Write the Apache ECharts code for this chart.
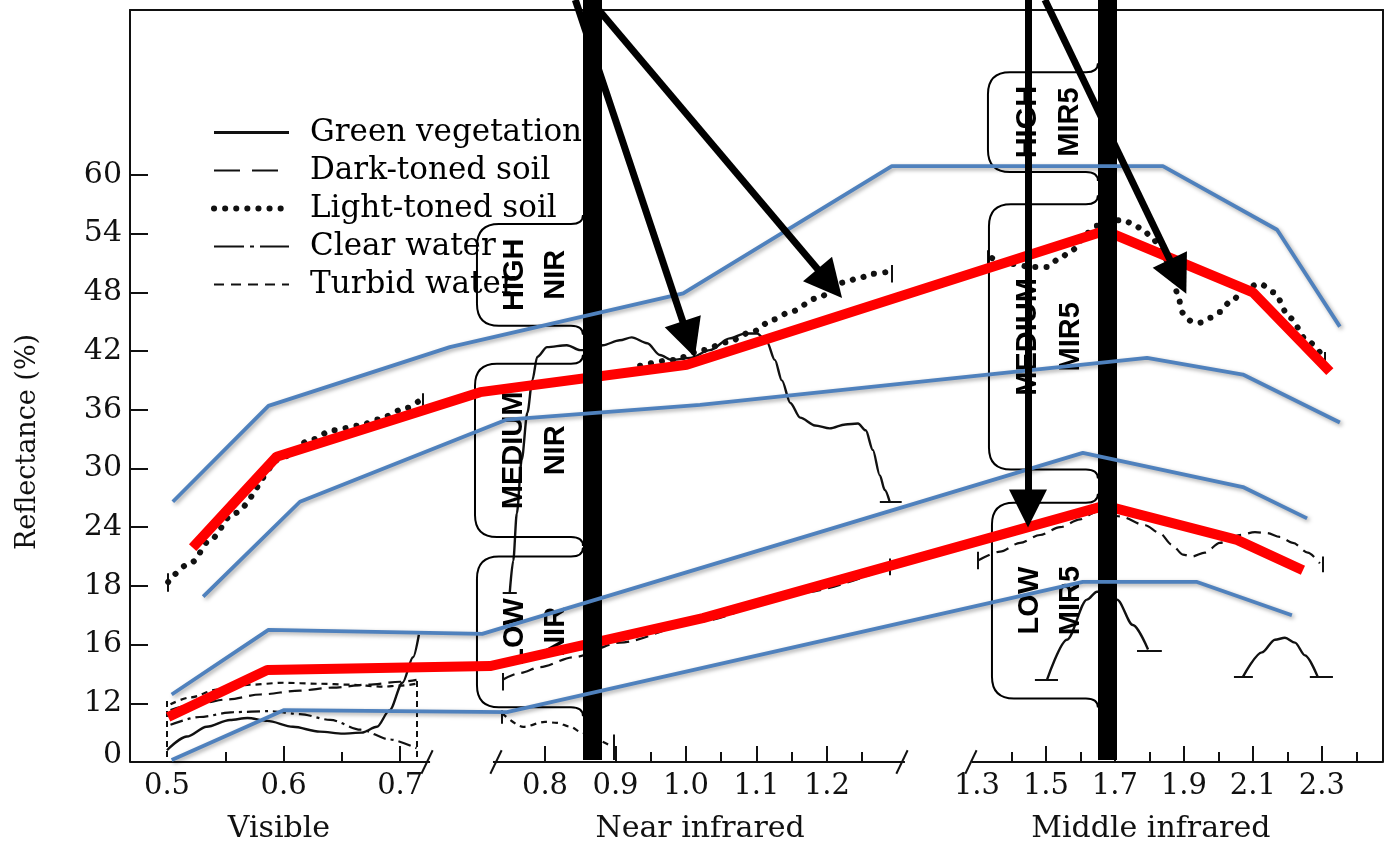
<!DOCTYPE html>
<html>
<head>
<meta charset="utf-8">
<script src="https://cdn.jsdelivr.net/npm/echarts@6/dist/echarts.min.js"></script>
<style>html,body{margin:0;padding:0;background:#fff}#c{width:1388px;height:848px}</style>
</head>
<body>
<div id="c"></div>
<script>
// ---------- axis tick labels ----------
const yTickLabels = ['0', '12', '16', '18', '24', '30', '36', '42', '48', '54', '60'];
const xTickLabels = [['VIS',0.5,'0.5'],['VIS',0.6,'0.6'],['VIS',0.7,'0.7'],
  ['NIR',0.8,'0.8'],['NIR',0.9,'0.9'],['NIR',1.0,'1.0'],['NIR',1.1,'1.1'],['NIR',1.2,'1.2'],
  ['MIR',1.3,'1.3'],['MIR',1.5,'1.5'],['MIR',1.7,'1.7'],['MIR',1.9,'1.9'],['MIR',2.1,'2.1'],['MIR',2.3,'2.3']];
const xMajorTicks = [['VIS',0.6],['VIS',0.7],['NIR',0.8],['NIR',0.9],['NIR',1.0],['NIR',1.1],['NIR',1.2],
  ['MIR',1.5],['MIR',1.7],['MIR',1.9],['MIR',2.1],['MIR',2.3]];
const xMinorTicks = [['VIS',0.55],['VIS',0.65],['NIR',0.95],['NIR',1.05],['NIR',1.15],['NIR',1.25],
  ['MIR',1.4],['MIR',1.6],['MIR',1.8],['MIR',2.0],['MIR',2.2],['MIR',2.4]];
const sectionLabels = [['VIS',0.596,'Visible'],['NIR',1.02,'Near infrared'],['MIR',1.804,'Middle infrared']];
const axisSegments = [['VIS',0.4683,0.7256],['NIR',0.7262,1.3106],['MIR',1.2855,2.4768]];
const axisBreaks = [['VIS',0.723],['NIR',0.7305],['NIR',1.3064],['MIR',1.2826]];

// ---------- spectral curves: [wavelength um, reflectance] ----------
const greenVegVIS = [[0.500,1.2],[0.517,2.6],[0.534,3.6],[0.554,4.3],[0.569,4.5],[0.586,4.2],[0.608,3.6],[0.631,3.1],[0.651,2.9],[0.667,3.0],[0.680,3.6],[0.691,5.3],[0.702,8.1],[0.711,10.7],[0.716,13.0]];
const greenVegNIR = [[0.750,17.3],[0.755,20.6],[0.760,25.4],[0.767,30.9],[0.775,35.7],[0.782,39.0],[0.789,41.4],[0.803,42.4],[0.831,42.6],[0.850,42.1],[0.864,42.1],[0.882,42.6],[0.906,43.1],[0.923,43.4],[0.945,42.8],[0.963,41.6],[0.980,41.1],[1.006,41.3],[1.034,42.1],[1.062,43.3],[1.084,43.8],[1.101,43.8],[1.115,42.9],[1.126,41.1],[1.136,39.0],[1.148,36.7],[1.162,35.2],[1.183,34.4],[1.204,34.1],[1.226,34.5],[1.244,34.6],[1.255,33.9],[1.265,31.9],[1.275,29.3],[1.282,27.8],[1.289,26.6]];
const greenVegMIR1 = [[1.503,8.4],[1.561,12.5],[1.619,16.6],[1.648,17.4],[1.677,17.4],[1.706,16.6],[1.752,14.0],[1.796,11.5]];
const greenVegMIR2 = [[2.071,8.7],[2.126,11.2],[2.164,12.5],[2.193,12.7],[2.222,12.2],[2.251,10.9],[2.288,8.7]];
const darkSoilVIS = [[0.503,5.3],[0.528,6.0],[0.552,6.4],[0.580,6.9],[0.614,7.3],[0.642,7.6],[0.672,7.9],[0.700,8.2],[0.714,8.4]];
const darkSoilNIR = [[0.740,8.4],[0.765,9.1],[0.793,9.7],[0.840,10.7],[0.906,12.2],[1.020,14.4],[1.162,17.3],[1.289,19.9]];
const darkSoilMIR = [[1.303,20.6],[1.367,21.5],[1.425,22.4],[1.483,23.2],[1.541,24.0],[1.599,24.8],[1.648,25.6],[1.715,25.1],[1.787,24.2],[1.830,23.4],[1.865,22.2],[1.897,21.2],[1.923,21.0],[1.961,21.4],[2.004,22.4],[2.062,23.2],[2.106,23.5],[2.141,23.4],[2.178,23.0],[2.216,22.4],[2.259,21.4],[2.294,20.3]];
const lightSoilVIS = [[0.501,18.4],[0.521,20.4],[0.537,22.7],[0.557,25.4],[0.600,31.2],[0.623,32.9],[0.642,33.9],[0.666,34.4],[0.680,35.0],[0.706,36.2],[0.717,37.0]];
const lightSoilNIR = [[0.935,40.5],[0.982,41.1],[1.024,42.1],[1.058,42.9],[1.095,44.0],[1.123,45.2],[1.148,46.0],[1.186,47.4],[1.223,49.0],[1.247,49.5],[1.265,49.9],[1.287,50.1]];
const lightSoilMIR = [[1.344,51.5],[1.400,50.9],[1.457,50.6],[1.503,50.6],[1.541,51.5],[1.575,52.3],[1.622,54.1],[1.648,54.8],[1.686,55.3],[1.723,55.4],[1.752,55.0],[1.781,54.4],[1.807,53.6],[1.839,52.0],[1.868,49.6],[1.880,48.0],[1.897,45.9],[1.923,45.0],[1.946,44.9],[1.975,45.4],[2.004,46.0],[2.033,47.0],[2.083,48.5],[2.120,48.9],[2.161,48.0],[2.207,45.4],[2.259,43.0],[2.300,41.6]];
const clearWaterVIS = [[0.503,3.8],[0.528,4.6],[0.557,5.1],[0.588,5.2],[0.614,4.9],[0.640,4.3],[0.666,3.3],[0.691,2.3],[0.714,1.4]];
const turbidWaterVIS = [[0.503,5.9],[0.520,6.6],[0.543,7.4],[0.571,7.9],[0.600,8.1],[0.629,8.0],[0.657,7.9],[0.685,7.7],[0.700,7.8],[0.714,8.0]];
const turbidWaterNIR = [[0.739,5.0],[0.769,3.6],[0.800,4.1],[0.817,4.0],[0.836,3.6],[0.850,3.1],[0.871,2.3],[0.892,1.7]];
// end caps of the curves: [segment, wl1, r1, wl2, r2]
const endCaps = [['VIS',0.501,17.4,0.501,19.3],['VIS',0.719,36.0,0.719,37.7],
  ['NIR',0.740,17.3,0.760,17.3],['NIR',1.275,26.6,1.306,26.6],['NIR',0.740,7.3,0.740,9.1],['NIR',1.289,19.1,1.289,20.8],
  ['NIR',1.292,49.0,1.292,50.8],['NIR',0.739,3.9,0.739,5.3],['NIR',0.897,0.2,0.897,2.8],
  ['MIR',1.332,50.6,1.332,52.3],['MIR',2.309,40.7,2.309,41.9],['MIR',1.303,19.7,1.303,21.5],['MIR',2.303,19.4,2.303,21.0],
  ['MIR',1.468,8.4,1.535,8.4],['MIR',1.764,11.4,1.836,11.4],['MIR',2.045,8.7,2.100,8.7],['MIR',2.265,8.7,2.332,8.7]];
const visMarkers = [['VIS',0.500,0.5,0.500,6.6],['VIS',0.714,0.5,0.714,8.4]];

// ---------- overlay annotations: [segment, wl, reflectance] ----------
const redUpper = [['VIS',0.522,21.9],['VIS',0.594,31.2],['NIR',0.708,37.8],['NIR',1.001,40.6],['MIR',1.671,54.3],['MIR',2.100,48.0],['MIR',2.323,39.9]];
const redLower = [['VIS',0.501,4.6],['VIS',0.586,9.4],['NIR',0.722,9.8],['NIR',1.024,14.7],['MIR',1.671,26.2],['MIR',2.054,22.7],['MIR',2.245,19.6]];
const blueHighTop = [['VIS',0.505,26.6],['VIS',0.587,36.4],['NIR',0.665,42.4],['NIR',0.996,47.9],['NIR',1.292,60.9],['MIR',1.839,60.9],['MIR',2.170,54.4],['MIR',2.352,44.5]];
const blueHighBottom = [['VIS',0.531,16.9],['VIS',0.614,26.6],['NIR',0.746,35.0],['NIR',1.020,36.5],['MIR',1.793,41.3],['MIR',2.071,39.6],['MIR',2.352,34.7]];
const blueLowTop = [['VIS',0.504,6.9],['VIS',0.587,13.5],['NIR',0.711,13.1],['MIR',1.607,31.6],['MIR',2.071,28.1],['MIR',2.257,24.9]];
const blueLowBottom = [['VIS',0.504,0.2],['VIS',0.600,5.3],['NIR',0.746,5.1],['MIR',1.607,18.4],['MIR',1.938,18.4],['MIR',2.213,15.0]];
const dividers = [['NIR',0.8674],['MIR',1.6768]];
// arrows: tail point, arrowhead centre
const arrows = [['NIR',0.843,77.9,'NIR',1.004,43.2],['NIR',0.864,77.9,'NIR',1.204,48.9],
  ['MIR',1.448,77.9,'MIR',1.448,25.9],['MIR',1.497,77.9,'MIR',1.883,49.6]];
const brackets = [
  ['NIR',0.7035,0.8539,55.0,44.6,'HIGH','NIR'],
  ['NIR',0.7007,0.8539,40.7,23.0,'MEDIUM','NIR'],
  ['NIR',0.7035,0.8539,21.0,5.6,'LOW','NIR'],
  ['MIR',1.3319,1.6507,70.5,60.3,'HIGH','MIR5'],
  ['MIR',1.3348,1.6507,57.0,29.9,'MEDIUM','MIR5'],
  ['MIR',1.3435,1.6507,26.5,6.5,'LOW','MIR5']];

// ---------- broken wavelength axis ----------
const SEG = { VIS: {wl0:0.5, u0:2.953, k:93.06}, NIR: {wl0:0.8, u0:33.12, k:56.26}, MIR: {wl0:1.5, u0:73.10, k:27.53} };
function toU(seg, wl){ const s = SEG[seg]; return s.u0 + (wl - s.wl0) * s.k; }
const YMAX = 76.86;
const SERIF = "'DejaVu Serif', serif";
const SANS = "'Liberation Sans', Arial, sans-serif";
const INK = '#111';

function nearestLabel(list, v){
  let bi = 0, bd = 1e9;
  list.forEach((t, i) => { const d = Math.abs(toU(t[0], t[1]) - v); if (d < bd) { bd = d; bi = i; } });
  return list[bi][2];
}
function curve(name, seg, pts, ls){
  return { type:'line', name, data: pts.map(p => [toU(seg, p[0]), p[1]]), symbol:'none', showSymbol:false,
    smooth:0.3, smoothMonotone:'x', lineStyle: Object.assign({color:INK}, ls), itemStyle:{color:INK}, z:2, silent:true };
}
function overlay(name, pts, ls, z){
  return { type:'line', name, data: pts.map(p => [toU(p[0], p[1]), p[2]]), symbol:'none', showSymbol:false,
    lineStyle: ls, z, silent:true, clip:false };
}
function segs(list){ return list.map(c => ({coords:[[toU(c[0],c[1]), c[2]], [toU(c[0],c[3]), c[4]]]})); }

const S_GREEN = {width:2.4, type:'solid'};
const S_DARK = {width:2.2, type:[13,7]};
const S_LIGHT = {width:6, type:[0.1,11], cap:'round'};
const S_CLEAR = {width:2.2, type:[13,5,3,5]};
const S_TURBID = {width:2.2, type:[6,5]};
const RED = {color:'#ff0000', width:10};
const BLUE = {color:'#4f81bd', width:3.8, shadowColor:'rgba(0,0,0,0.35)', shadowBlur:4, shadowOffsetX:2, shadowOffsetY:2};

const series = [
  curve('Green vegetation','VIS',greenVegVIS,S_GREEN), curve('Green vegetation','NIR',greenVegNIR,S_GREEN),
  curve('Green vegetation','MIR',greenVegMIR1,S_GREEN), curve('Green vegetation','MIR',greenVegMIR2,S_GREEN),
  curve('Dark-toned soil','VIS',darkSoilVIS,S_DARK), curve('Dark-toned soil','NIR',darkSoilNIR,S_DARK), curve('Dark-toned soil','MIR',darkSoilMIR,S_DARK),
  curve('Light-toned soil','VIS',lightSoilVIS,S_LIGHT), curve('Light-toned soil','NIR',lightSoilNIR,S_LIGHT), curve('Light-toned soil','MIR',lightSoilMIR,S_LIGHT),
  curve('Clear water','VIS',clearWaterVIS,S_CLEAR),
  curve('Turbid water','VIS',turbidWaterVIS,S_TURBID), curve('Turbid water','NIR',turbidWaterNIR,S_TURBID),
  { type:'lines', coordinateSystem:'cartesian2d', data: segs(endCaps), lineStyle:{color:INK, width:2, opacity:1}, z:2, silent:true, clip:false },
  { type:'lines', coordinateSystem:'cartesian2d', data: segs(visMarkers), lineStyle:{color:INK, width:2, opacity:1, type:[6,4]}, z:2, silent:true, clip:false },
  // broken x-axis line and break marks
  { type:'lines', coordinateSystem:'cartesian2d', data: axisSegments.map(a => ({coords:[[toU(a[0],a[1]),0],[toU(a[0],a[2]),0]]})),
    lineStyle:{color:INK, width:2, opacity:1}, z:2, silent:true, clip:false },
  { type:'lines', coordinateSystem:'cartesian2d', data: axisBreaks.map(b => ({coords:[[toU(b[0],b[1])-0.45,-1.2],[toU(b[0],b[1])+0.45,1.2]]})),
    lineStyle:{color:INK, width:2, opacity:1}, z:2, silent:true, clip:false },
  // band brackets with labels
  { type:'custom', data: brackets.map(b => [toU(b[0],b[1]), toU(b[0],b[2]), b[3], b[4]]), z:3, silent:true, clip:false,
    renderItem: function(params, api){
      const p1 = api.coord([api.value(0), api.value(2)]);
      const p2 = api.coord([api.value(1), api.value(3)]);
      const L = p1[0], T = p1[1], R = p2[0], B = p2[1], rr = 22;
      const d = 'M'+R+','+(T-9)+' Q'+R+','+T+' '+(R-12)+','+T+' L'+(L+rr)+','+T+' Q'+L+','+T+' '+L+','+(T+rr)+
        ' L'+L+','+(B-rr)+' Q'+L+','+B+' '+(L+rr)+','+B+' L'+(R-12)+','+B+' Q'+R+','+B+' '+R+','+(B+9);
      const b = brackets[params.dataIndex], w = R - L, cy = (T + B) / 2;
      const ts = t => ({text:t, fill:'#000', font:'bold 29px '+SANS, align:'center', verticalAlign:'middle'});
      return { type:'group', children:[
        {type:'path', shape:{pathData:d}, style:{stroke:'#000', fill:'none', lineWidth:2}},
        {type:'text', x:L + 0.36*w, y:cy, rotation:Math.PI/2, style:ts(b[5])},
        {type:'text', x:L + 0.75*w, y:cy, rotation:Math.PI/2, style:ts(b[6])}
      ]};
    } },
  overlay('upper red', redUpper, RED, 4),
  overlay('lower red', redLower, RED, 4),
  { type:'lines', coordinateSystem:'cartesian2d', data: dividers.map(d => ({coords:[[toU(d[0],d[1]),0.2],[toU(d[0],d[1]),77.9]]})),
    lineStyle:{color:'#000', width:19, opacity:1}, z:5, silent:true, clip:false },
  overlay('blue 1', blueHighTop, BLUE, 6),
  overlay('blue 2', blueHighBottom, BLUE, 6),
  overlay('blue 3', blueLowTop, BLUE, 6),
  overlay('blue 4', blueLowBottom, BLUE, 6),
  { type:'lines', coordinateSystem:'cartesian2d', data: arrows.map(a => ({coords:[[toU(a[0],a[1]),a[2]],[toU(a[3],a[4]),a[5]]]})),
    symbol:['none','triangle'], symbolSize:[34,38], lineStyle:{color:'#000', width:7, opacity:1, curveness:0}, z:7, silent:true, clip:false }
];

const baseX = {type:'value', min:0, max:100, splitLine:{show:false}};
const option = {
  animation:false,
  backgroundColor:'#fff',
  grid:{left:130, right:5, top:10, bottom:86},
  legend:{ orient:'vertical', left:211, top:117, padding:0, itemWidth:75, itemHeight:14, itemGap:7, selectedMode:false, z:1,
    itemStyle:{opacity:0},
    textStyle:{fontFamily:SERIF, fontSize:31, color:'#000', lineHeight:25, padding:[0,0,0,16]},
    data:[{name:'Green vegetation', lineStyle:{width:2.8}}, {name:'Dark-toned soil', lineStyle:{width:2.2, type:[26,12]}},
      {name:'Light-toned soil', lineStyle:{width:6}}, {name:'Clear water', lineStyle:{width:2.2, type:[30,6,4,6]}},
      {name:'Turbid water', lineStyle:{width:2.2, type:[10,7]}}] },
  xAxis:[
    Object.assign({}, baseX, {position:'bottom', axisLine:{show:false, onZero:false},
      axisTick:{show:true, inside:true, length:16, lineStyle:{color:INK, width:2}, customValues: xMajorTicks.map(t => toU(t[0],t[1]))},
      axisLabel:{show:true, margin:10, color:INK, fontFamily:SERIF, fontSize:29, customValues: xTickLabels.map(t => toU(t[0],t[1])),
        formatter: v => nearestLabel(xTickLabels, v)}}),
    Object.assign({}, baseX, {position:'bottom', axisLine:{show:false, onZero:false},
      axisTick:{show:true, inside:true, length:10, lineStyle:{color:INK, width:2}, customValues: xMinorTicks.map(t => toU(t[0],t[1]))},
      axisLabel:{show:false}}),
    Object.assign({}, baseX, {position:'bottom', axisLine:{show:false, onZero:false}, axisTick:{show:false},
      axisLabel:{show:true, margin:52, color:INK, fontFamily:SERIF, fontSize:30, customValues: sectionLabels.map(t => toU(t[0],t[1])),
        formatter: v => nearestLabel(sectionLabels, v)}}),
    Object.assign({}, baseX, {position:'top', axisLine:{show:true, onZero:false, lineStyle:{color:INK, width:2}}, axisTick:{show:false}, axisLabel:{show:false}})
  ],
  yAxis:[
    {type:'value', min:0, max:YMAX, position:'left', splitLine:{show:false},
      axisLine:{show:true, onZero:false, lineStyle:{color:INK, width:2}},
      axisTick:{show:true, inside:true, length:18, lineStyle:{color:INK, width:2}, customValues:[6,12,18,24,30,36,42,48,54,60]},
      axisLabel:{show:true, margin:8, color:INK, fontFamily:SERIF, fontSize:30, customValues:[0,6,12,18,24,30,36,42,48,54,60],
        formatter: v => { const i = Math.round(v/6); return i === 0 ? '{z|0}' : yTickLabels[i]; },
        rich:{z:{fontFamily:SERIF, fontSize:30, color:INK, padding:[0,0,14,0]}}}},
    {type:'value', min:0, max:YMAX, position:'right', splitLine:{show:false},
      axisLine:{show:true, onZero:false, lineStyle:{color:INK, width:2}}, axisTick:{show:false}, axisLabel:{show:false}}
  ],
  graphic:[{type:'text', x:28, y:442, rotation:Math.PI/2, z:10,
    style:{text:'Reflectance (%)', font:'27px '+SERIF, fill:INK, align:'center', verticalAlign:'middle'}}],
  series
};
const chart = echarts.init(document.getElementById('c'), null, {renderer:'canvas'});
chart.setOption(option);
</script>
</body>
</html>
